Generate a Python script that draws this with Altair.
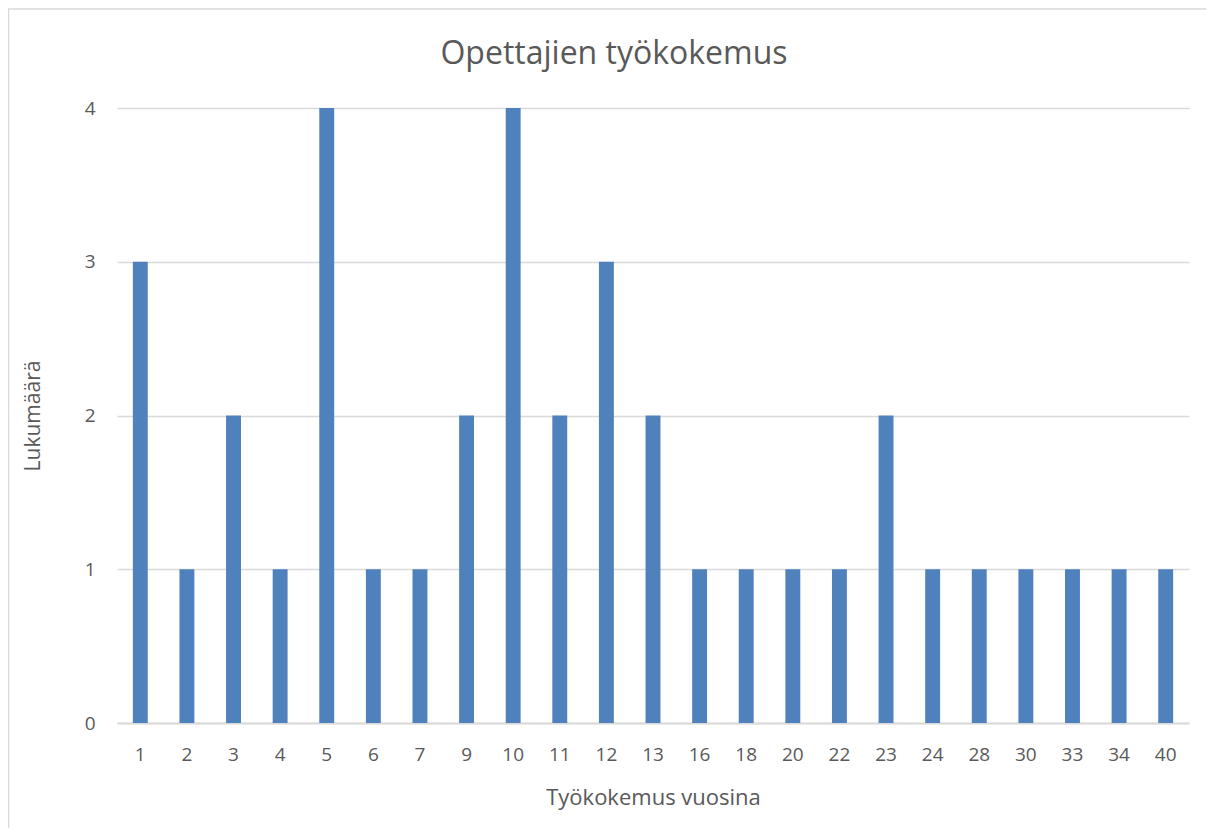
import altair as alt
import pandas as pd

years = ["1", "2", "3", "4", "5", "6", "7", "9", "10", "11", "12", "13", "16",
         "18", "20", "22", "23", "24", "28", "30", "33", "34", "40"]
counts = [3, 1, 2, 1, 4, 1, 1, 2, 4, 2, 3, 2, 1, 1, 1, 1, 2, 1, 1, 1, 1, 1, 1]

df = pd.DataFrame({"vuodet": years, "lukumaara": counts})

W, H = 1072, 615
FONT = "Open Sans"
GREY = "#595959"

bars = alt.Chart(df).mark_bar(color="#4f81bd").encode(
    x=alt.X("vuodet:N", sort=years,
            scale=alt.Scale(paddingInner=0.68, paddingOuter=0.34),
            axis=alt.Axis(title="Työkokemus vuosina", labelAngle=0, grid=False,
                          labelFont=FONT, labelFontSize=19, labelColor=GREY,
                          labelPadding=22, ticks=False, domain=True,
                          domainColor="#d9d9d9", domainWidth=2,
                          titleFont=FONT, titleFontSize=22, titleColor=GREY,
                          titleFontWeight="normal", titleY=74, titleBaseline="middle")),
    y=alt.Y("lukumaara:Q", scale=alt.Scale(domain=[0, 4]),
            axis=alt.Axis(title="Lukumäärä", values=[0, 1, 2, 3, 4], format="d",
                          labelFont=FONT, labelFontSize=19, labelColor=GREY,
                          labelPadding=22, ticks=False, domain=False,
                          gridColor="#d9d9d9", gridWidth=1.5,
                          titleFont=FONT, titleFontSize=21, titleColor=GREY,
                          titleFontWeight="normal", titleX=-84, titleY=H / 2,
                          titleBaseline="middle", titleAngle=-90)),
)

frame = alt.Chart(pd.DataFrame({"a": [0]})).mark_rect(
    fill=None, stroke="#d9d9d9", strokeWidth=1.5
).encode(x=alt.value(-108.5), x2=alt.value(W + 300), y=alt.value(-99), y2=alt.value(H + 300))

chart = alt.layer(frame, bars).properties(
    width=W, height=H,
    view=alt.ViewBackground(stroke="transparent", strokeWidth=0),
    title=alt.TitleParams("Opettajien työkokemus", font=FONT, fontSize=32,
                          color=GREY, fontWeight="normal", anchor="middle",
                          frame="group", offset=0, dy=63, dx=-39),
    autosize=alt.AutoSizeParams(type="none"),
    padding={"left": 109, "top": 100, "right": 17, "bottom": 105},
).configure_view(stroke="transparent", strokeWidth=0).configure(background="white")

chart.save("out.html", embed_options={"renderer": "svg", "actions": False})
